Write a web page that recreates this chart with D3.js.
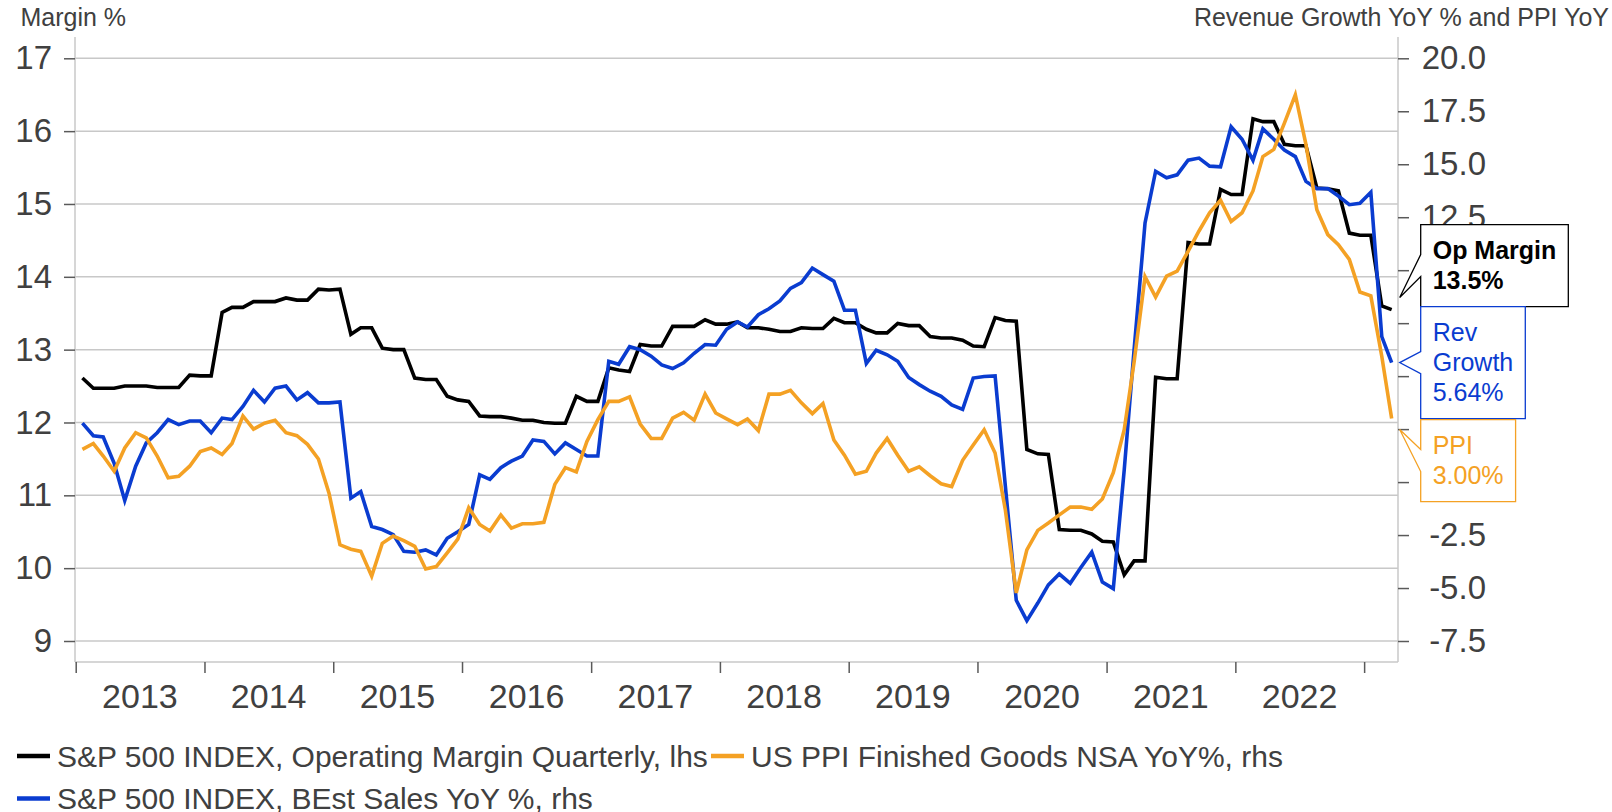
<!DOCTYPE html>
<html>
<head>
<meta charset="utf-8">
<script src="https://cdn.jsdelivr.net/npm/d3@7"></script>
<style>
  html, body { margin: 0; padding: 0; background: #fff; }
  svg { display: block; }
</style>
</head>
<body>
<div id="chart"></div>
<script>
/* S&P 500 operating margin vs revenue growth and PPI, monthly Jan 2013 - Mar 2023 */

const firstMonth = new Date(2013, 0, 20);

// lhs, %
const opMargin = [
  12.61, 12.47, 12.47, 12.47, 12.50, 12.50, 12.50, 12.48, 12.48, 12.48, 12.65, 12.64,
  12.64, 13.51, 13.58, 13.58, 13.66, 13.66, 13.66, 13.71, 13.68, 13.68, 13.83, 13.82,
  13.83, 13.21, 13.30, 13.30, 13.02, 13.00, 13.00, 12.61, 12.59, 12.59, 12.36, 12.31,
  12.29, 12.09, 12.08, 12.08, 12.06, 12.03, 12.03, 12.00, 11.99, 11.99, 12.36, 12.29,
  12.29, 12.75, 12.72, 12.70, 13.07, 13.05, 13.05, 13.32, 13.32, 13.32, 13.41, 13.35,
  13.35, 13.38, 13.30, 13.30, 13.28, 13.25, 13.25, 13.30, 13.29, 13.29, 13.43, 13.37,
  13.37, 13.28, 13.23, 13.23, 13.36, 13.33, 13.33, 13.18, 13.16, 13.16, 13.13, 13.05,
  13.04, 13.44, 13.40, 13.39, 11.63, 11.57, 11.56, 10.53, 10.52, 10.52, 10.47, 10.37,
  10.36, 9.91, 10.10, 10.10, 12.62, 12.60, 12.60, 14.47, 14.45, 14.45, 15.20, 15.13,
  15.13, 16.17, 16.13, 16.13, 15.82, 15.80, 15.80, 15.22, 15.21, 15.18, 14.60, 14.57,
  14.57, 13.60, 13.55
];

// rhs, YoY %
const revGrowth = [
  2.78, 2.19, 2.13, 0.89, -0.87, 0.75, 1.85, 2.33, 2.95, 2.71, 2.88, 2.88,
  2.33, 3.02, 2.95, 3.57, 4.33, 3.78, 4.43, 4.53, 3.88, 4.22, 3.74, 3.74,
  3.78, -0.76, -0.45, -2.10, -2.24, -2.48, -3.27, -3.31, -3.20, -3.44, -2.65, -2.34,
  -2.00, 0.34, 0.13, 0.68, 0.99, 1.23, 1.99, 1.92, 1.33, 1.85, 1.54, 1.23,
  1.23, 5.70, 5.56, 6.39, 6.25, 5.94, 5.53, 5.36, 5.63, 6.08, 6.49, 6.46,
  7.21, 7.56, 7.32, 7.90, 8.18, 8.55, 9.14, 9.41, 10.10, 9.79, 9.48, 8.11,
  8.11, 5.60, 6.22, 6.01, 5.70, 4.94, 4.60, 4.29, 4.05, 3.64, 3.43, 4.91,
  4.98, 5.01, -0.18, -5.58, -6.54, -5.71, -4.85, -4.34, -4.78, -4.03, -3.31, -4.72,
  -5.03, 0.58, 6.25, 12.23, 14.67, 14.36, 14.50, 15.19, 15.29, 14.91, 14.88, 16.77,
  16.18, 15.19, 16.67, 16.18, 15.67, 15.36, 14.19, 13.85, 13.85, 13.50, 13.09, 13.16,
  13.68, 6.87, 5.64
];

// rhs, YoY %
const ppi = [
  1.54, 1.82, 1.23, 0.51, 1.61, 2.33, 2.09, 1.23, 0.20, 0.27, 0.75, 1.44,
  1.61, 1.30, 1.82, 3.12, 2.50, 2.78, 2.92, 2.33, 2.19, 1.78, 1.09, -0.52,
  -2.96, -3.17, -3.27, -4.44, -2.89, -2.55, -2.76, -3.03, -4.10, -3.99, -3.34, -2.69,
  -1.21, -2.00, -2.31, -1.55, -2.17, -1.97, -1.97, -1.90, -0.11, 0.68, 0.48, 1.92,
  2.95, 3.81, 3.81, 4.02, 2.74, 2.06, 2.06, 3.02, 3.29, 2.92, 4.15, 3.26,
  2.98, 2.71, 2.98, 2.43, 4.15, 4.15, 4.33, 3.74, 3.23, 3.71, 1.99, 1.27,
  0.37, 0.51, 1.37, 2.06, 1.27, 0.51, 0.72, 0.30, -0.08, -0.21, 1.03, 1.75,
  2.47, 1.37, -1.31, -5.23, -3.20, -2.28, -1.93, -1.55, -1.18, -1.18, -1.28, -0.80,
  0.44, 2.47, 5.67, 9.69, 8.73, 9.72, 9.96, 10.89, 11.85, 12.71, 13.30, 12.30,
  12.71, 13.74, 15.36, 15.70, 16.94, 18.28, 15.94, 12.85, 11.68, 11.20, 10.51, 8.97,
  8.79, 5.94, 3.00
];

const leftTicks = [9, 10, 11, 12, 13, 14, 15, 16, 17];
const rightTicks = [-7.5, -5, -2.5, 0, 2.5, 5, 7.5, 10, 12.5, 15, 17.5, 20];
const yearLabels = [2013, 2014, 2015, 2016, 2017, 2018, 2019, 2020, 2021, 2022];
const yearTicks = [2013, 2014, 2015, 2016, 2017, 2018, 2019, 2020, 2021, 2022, 2023];

const leftTitle = 'Margin %';
const rightTitle = 'Revenue Growth YoY % and PPI YoY';

const legendLabels = [
  'S&P 500 INDEX, Operating Margin Quarterly, lhs',
  'US PPI Finished Goods NSA YoY%, rhs',
  'S&P 500 INDEX, BEst Sales YoY %, rhs'
];

const calloutText = [
  ['Op Margin', '13.5%'],
  ['Rev', 'Growth', '5.64%'],
  ['PPI', '3.00%']
];

// ─── Layout ───
const W = 1612, H = 812;
const plot = { left: 75, right: 1398, top: 37, bottom: 662 };
const BLACK = '#000000', BLUE = '#0a3cd0', ORANGE = '#f4a124';
const GRID = '#c8c8c8', TICK = '#5a5a5a', LABEL = '#404040';
const FONT = "'Liberation Sans', Arial, Helvetica, sans-serif";

const dates = opMargin.map((_, i) => d3.timeMonth.offset(firstMonth, i));

const svg = d3.select('#chart').append('svg')
  .attr('width', W).attr('height', H)
  .style('font-family', FONT);

// Scales
const x = d3.scaleTime()
  .domain([new Date(2012, 11, 30), new Date(2023, 3, 7)])
  .range([plot.left, plot.right]);

const yL = d3.scaleLinear().domain([9, 17]).range([641, 58.3]);
const yR = d3.scaleLinear().domain([-7.5, 20]).range([641, 58.3]);

// Grid lines
svg.append('g').selectAll('line')
  .data(leftTicks)
  .join('line')
  .attr('x1', plot.left).attr('x2', plot.right)
  .attr('y1', d => yL(d)).attr('y2', d => yL(d))
  .attr('stroke', GRID).attr('stroke-width', 1.5);

// Frame
const frame = svg.append('g').attr('stroke', GRID).attr('stroke-width', 1.5);
frame.append('line').attr('x1', plot.left).attr('x2', plot.left).attr('y1', plot.top).attr('y2', plot.bottom);
frame.append('line').attr('x1', plot.right).attr('x2', plot.right).attr('y1', plot.top).attr('y2', plot.bottom);
frame.append('line').attr('x1', plot.left).attr('x2', plot.right).attr('y1', plot.bottom).attr('y2', plot.bottom);

// Left axis
svg.append('g')
  .attr('transform', `translate(${plot.left},0)`)
  .call(d3.axisLeft(yL).tickValues(leftTicks).tickSize(11).tickPadding(12).tickFormat(d3.format('d')))
  .call(g => g.select('.domain').remove())
  .call(g => g.selectAll('.tick line').attr('stroke', TICK).attr('stroke-width', 1.5))
  .call(g => g.selectAll('.tick text')
    .attr('fill', LABEL).attr('font-family', FONT).attr('font-size', '33px'));

// Right axis
svg.append('g')
  .attr('transform', `translate(${plot.right},0)`)
  .call(d3.axisRight(yR).tickValues(rightTicks).tickSize(11).tickFormat(d => d.toFixed(1)))
  .call(g => g.select('.domain').remove())
  .call(g => g.selectAll('.tick line').attr('stroke', TICK).attr('stroke-width', 1.5))
  .call(g => g.selectAll('.tick text')
    .attr('x', 88).attr('text-anchor', 'end')
    .attr('fill', LABEL).attr('font-family', FONT).attr('font-size', '33px'));

// X axis
svg.append('g')
  .attr('transform', `translate(0,${plot.bottom})`)
  .call(d3.axisBottom(x).tickValues(yearTicks.map(y => new Date(y, 0, 1))).tickSize(11).tickFormat(''))
  .call(g => g.select('.domain').remove())
  .call(g => g.selectAll('.tick line').attr('stroke', TICK).attr('stroke-width', 1.5));

svg.append('g').selectAll('text')
  .data(yearLabels)
  .join('text')
  .attr('x', d => x(new Date(d, 6, 2)))
  .attr('y', 708)
  .attr('text-anchor', 'middle')
  .attr('fill', LABEL)
  .attr('font-size', '34px')
  .text(d => d);

// Axis titles
svg.append('text')
  .attr('x', 20.5).attr('y', 26)
  .attr('fill', LABEL).attr('font-size', '25px')
  .text(leftTitle);

svg.append('text')
  .attr('x', 1609).attr('y', 26)
  .attr('text-anchor', 'end')
  .attr('fill', LABEL).attr('font-size', '25px')
  .text(rightTitle);

// Lines
const series = [
  { values: opMargin, scale: yL, color: BLACK },
  { values: revGrowth, scale: yR, color: BLUE },
  { values: ppi, scale: yR, color: ORANGE }
];

series.forEach(s => {
  const line = d3.line()
    .x((d, i) => x(dates[i]))
    .y(d => s.scale(d));
  svg.append('path')
    .datum(s.values)
    .attr('d', line)
    .attr('fill', 'none')
    .attr('stroke', s.color)
    .attr('stroke-width', 3.6)
    .attr('stroke-linejoin', 'miter');
});

// ─── Callouts ───
const last = opMargin.length - 1;
const callouts = [
  { lines: calloutText[0], anchor: yL(opMargin[last]), color: BLACK, bold: true },
  { lines: calloutText[1], anchor: yR(revGrowth[last]), color: BLUE, pinned: true },
  { lines: calloutText[2], anchor: yR(ppi[last]), color: ORANGE }
];

const boxX = 1420.7, lineStep = 30, padX = 12;
const cg = svg.append('g');

callouts.forEach(c => {
  c.h = 22 + lineStep * c.lines.length;
  // measure text width
  const probe = cg.append('text')
    .attr('font-size', '25px')
    .attr('font-weight', c.bold ? 'bold' : 'normal');
  let wMax = 0;
  c.lines.forEach(t => {
    probe.text(t);
    wMax = Math.max(wMax, probe.node().getComputedTextLength());
  });
  probe.remove();
  c.w = wMax + padX * 2;
});

const pin = callouts.findIndex(c => c.pinned);
callouts[pin].top = callouts[pin].anchor - callouts[pin].h / 2;
for (let i = pin - 1; i >= 0; i--) {
  const c = callouts[i];
  c.top = Math.min(c.anchor - c.h / 2, callouts[i + 1].top - c.h);
}
for (let i = pin + 1; i < callouts.length; i++) {
  const c = callouts[i];
  c.top = Math.max(c.anchor - c.h / 2, callouts[i - 1].top + callouts[i - 1].h + 1);
}

callouts.forEach(c => {
  const top = c.top, bottom = c.top + c.h, right = boxX + c.w;
  const mid = (top + bottom) / 2;
  const tipY = Math.max(top + 10, Math.min(bottom - 9, c.anchor));
  const tipX = boxX - 21;
  cg.append('path')
    .attr('d', `M${boxX},${top}H${right}V${bottom}H${boxX}V${mid + 11}L${tipX},${tipY}L${boxX},${mid - 11}Z`)
    .attr('fill', '#fff')
    .attr('stroke', c.color)
    .attr('stroke-width', 1.3);
  c.lines.forEach((t, j) => {
    cg.append('text')
      .attr('x', boxX + padX)
      .attr('y', top + 34 + j * lineStep)
      .attr('fill', c.color)
      .attr('font-size', '25px')
      .attr('font-weight', c.bold ? 'bold' : 'normal')
      .text(t);
  });
});

// ─── Legend ───
const legendItems = [
  { label: legendLabels[0], color: BLACK, x: 17, y: 756 },
  { label: legendLabels[1], color: ORANGE, x: 711, y: 756 },
  { label: legendLabels[2], color: BLUE, x: 17, y: 798.5 }
];

const lg = svg.append('g');
legendItems.forEach(it => {
  lg.append('line')
    .attr('x1', it.x).attr('x2', it.x + 33)
    .attr('y1', it.y).attr('y2', it.y)
    .attr('stroke', it.color).attr('stroke-width', 4.5);
  lg.append('text')
    .attr('x', it.x + 40).attr('y', it.y + 10.5)
    .attr('fill', LABEL).attr('font-size', '30px')
    .text(it.label);
});
</script>
</body>
</html>
